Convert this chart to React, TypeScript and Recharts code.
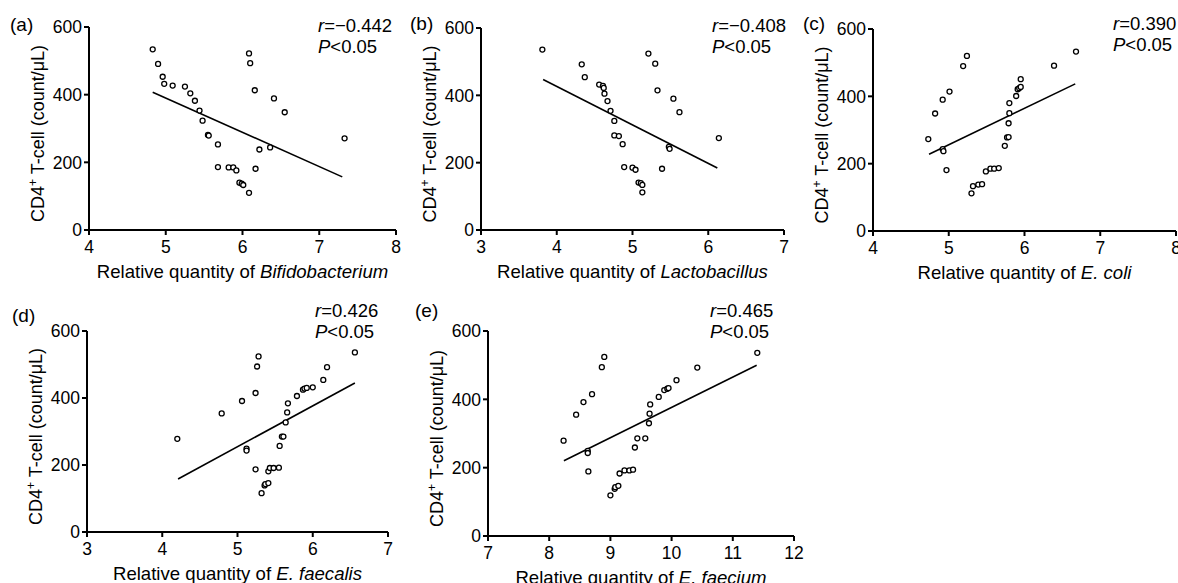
import { ScatterChart, Scatter, XAxis, YAxis, ReferenceLine } from "recharts";

const FONT = '"Liberation Sans", Arial, sans-serif';

// CD4+ T-cell counts vs relative bacterial quantity
const bifidoX = [4.83, 4.9, 4.96, 4.98, 5.09, 5.25, 5.32, 5.38, 5.44, 5.48, 5.55, 5.56, 5.68, 5.68, 5.82, 5.88, 5.92, 5.96, 5.99, 6.01, 6.085, 6.085, 6.1, 6.16, 6.17, 6.22, 6.36, 6.41, 6.55, 7.33];
const bifidoY = [534, 491, 453, 432, 427, 424, 404, 382, 353, 323, 281, 279, 253, 186, 185, 185, 176, 140, 137, 133, 110, 522, 493, 413, 181, 238, 244, 389, 348, 271];
const bifidoFit = [[4.83, 407], [7.3, 157]];

const lactoX = [3.81, 4.33, 4.37, 4.56, 4.61, 4.62, 4.63, 4.67, 4.71, 4.76, 4.76, 4.82, 4.87, 4.89, 5.0, 5.04, 5.08, 5.11, 5.13, 5.13, 5.21, 5.3, 5.33, 5.39, 5.48, 5.49, 5.54, 5.62, 6.14];
const lactoY = [536, 492, 454, 432, 428, 422, 405, 383, 354, 324, 281, 279, 255, 187, 185, 179, 141, 139, 134, 112, 524, 494, 415, 182, 247, 241, 390, 350, 273];
const lactoFit = [[3.82, 447], [6.12, 184]];

const coliX = [4.73, 4.82, 4.92, 4.92, 4.93, 4.97, 5.01, 5.19, 5.24, 5.3, 5.32, 5.39, 5.44, 5.49, 5.55, 5.6, 5.66, 5.74, 5.77, 5.79, 5.79, 5.8, 5.8, 5.89, 5.91, 5.93, 5.95, 5.95, 6.39, 6.68];
const coliY = [273, 349, 390, 243, 237, 181, 414, 490, 520, 112, 133, 138, 139, 177, 185, 185, 187, 253, 278, 279, 320, 350, 380, 401, 421, 424, 428, 451, 491, 533];
const coliFit = [[4.74, 228], [6.67, 437]];

const faecalisX = [4.2, 4.79, 5.06, 5.12, 5.12, 5.24, 5.24, 5.26, 5.28, 5.32, 5.36, 5.37, 5.41, 5.41, 5.43, 5.48, 5.55, 5.56, 5.59, 5.61, 5.64, 5.66, 5.67, 5.79, 5.87, 5.89, 5.92, 6.0, 6.14, 6.19, 6.56];
const faecalisY = [278, 354, 391, 249, 243, 415, 187, 494, 524, 116, 139, 143, 146, 181, 191, 191, 192, 257, 285, 285, 327, 357, 384, 406, 425, 428, 430, 432, 454, 492, 536];
const faecalisFit = [[4.21, 158], [6.56, 445]];

const faeciumX = [8.235, 8.44, 8.56, 8.63, 8.63, 8.64, 8.7, 8.86, 8.9, 9.0, 9.07, 9.08, 9.13, 9.15, 9.23, 9.31, 9.37, 9.4, 9.44, 9.57, 9.63, 9.64, 9.65, 9.79, 9.88, 9.93, 9.95, 10.08, 10.42, 11.4];
const faeciumY = [279, 355, 392, 249, 243, 189, 415, 494, 524, 119, 138, 143, 147, 183, 192, 192, 194, 259, 286, 286, 330, 358, 385, 407, 427, 431, 433, 456, 493, 536];
const faeciumFit = [[8.24, 220], [11.39, 500]];

const yTicks = [0, 200, 400, 600];
const xTicks48 = [4, 5, 6, 7, 8];
const xTicks37 = [3, 4, 5, 6, 7];
const xTicks712 = [7, 8, 9, 10, 11, 12];

const toPoints = (xs: number[], ys: number[]) => xs.map((x, i) => ({ x, y: ys[i] }));

const Dot = (props: any) => (
  <circle cx={props.cx} cy={props.cy} r={2.5} fill="#fff" stroke="#000" strokeWidth={1.3} />
);

interface PanelProps {
  xs: number[];
  ys: number[];
  fit: number[][];
  xTicks: number[];
  organism: string;
  L: number;
  R: number;
  T: number;
  B: number;
}

function Panel({ xs, ys, fit, xTicks, organism, L, R, T, B }: PanelProps) {
  const yAxisW = 89;
  const mt = 27;
  const width = R - L + yAxisW + 10;
  const height = mt + (B - T) + 55;
  const data = toPoints(xs, ys);
  const tickStyle = { fill: "#000", fontSize: 17.5, fontFamily: FONT };

  return (
    <div style={{ position: "absolute", left: L - yAxisW, top: T - mt }}>
      <ScatterChart width={width} height={height} margin={{ top: mt, right: 10, left: 0, bottom: 0 }}>
        <XAxis
          type="number"
          dataKey="x"
          domain={[xTicks[0], xTicks[xTicks.length - 1]]}
          ticks={xTicks}
          interval={0}
          height={55}
          axisLine={{ stroke: "#000", strokeWidth: 2 }}
          tickLine={{ stroke: "#000", strokeWidth: 2 }}
          tickSize={5}
          tickMargin={6}
          tick={tickStyle}
          label={{
            content: (p: any) => {
              const vb = p.viewBox;
              return (
                <text x={vb.x + vb.width / 2} y={vb.y + 48} textAnchor="middle" fontSize={18.6} fontFamily={FONT} fill="#000">
                  Relative quantity of <tspan fontStyle="italic">{organism}</tspan>
                </text>
              );
            },
          }}
        />
        <YAxis
          type="number"
          dataKey="y"
          domain={[0, 600]}
          ticks={yTicks}
          interval={0}
          width={yAxisW}
          axisLine={{ stroke: "#000", strokeWidth: 2 }}
          tickLine={{ stroke: "#000", strokeWidth: 2 }}
          tickSize={5}
          tickMargin={2}
          tick={tickStyle}
          label={{
            content: (p: any) => {
              const vb = p.viewBox;
              const cx = vb.x + 44;
              const cy = vb.y + vb.height / 2 + 5;
              return (
                <text
                  x={cx}
                  y={cy}
                  transform={`rotate(-90 ${cx} ${cy})`}
                  textAnchor="middle"
                  fontSize={18}
                  fontFamily={FONT}
                  fill="#000"
                >
                  CD4
                  <tspan dy={-7} fontSize={12}>+</tspan>
                  <tspan dy={7}> T-cell (count/μL)</tspan>
                </text>
              );
            },
          }}
        />
        <ReferenceLine
          segment={[
            { x: fit[0][0], y: fit[0][1] },
            { x: fit[1][0], y: fit[1][1] },
          ]}
          stroke="#000"
          strokeWidth={1.6}
        />
        <Scatter data={data} shape={Dot} isAnimationActive={false} />
      </ScatterChart>
    </div>
  );
}

function Stats({ tag, r, tagPos, statPos }: { tag: string; r: string; tagPos: number[]; statPos: number[] }) {
  return (
    <>
      <div style={{ position: "absolute", left: tagPos[0], top: tagPos[1], fontSize: 19, lineHeight: "22px", fontFamily: FONT }}>
        {tag}
      </div>
      <div style={{ position: "absolute", left: statPos[0], top: statPos[1], fontSize: 18.5, lineHeight: "21px", fontFamily: FONT, whiteSpace: "nowrap" }}>
        <div>
          <i>r</i>={r}
        </div>
        <div>
          <i>P</i>{"<0.05"}
        </div>
      </div>
    </>
  );
}

export default function App() {
  return (
    <div
      style={{
        position: "absolute",
        left: 0,
        top: 0,
        width: 1178,
        height: 583,
        overflow: "hidden",
        background: "#fff",
        color: "#000",
      }}
    >
      <Panel xs={bifidoX} ys={bifidoY} fit={bifidoFit} xTicks={xTicks48} organism="Bifidobacterium" L={89} R={396} T={27} B={230} />
      <Panel xs={lactoX} ys={lactoY} fit={lactoFit} xTicks={xTicks37} organism="Lactobacillus" L={481} R={784} T={28} B={230} />
      <Panel xs={coliX} ys={coliY} fit={coliFit} xTicks={xTicks48} organism="E. coli" L={873} R={1176} T={29} B={231} />
      <Panel xs={faecalisX} ys={faecalisY} fit={faecalisFit} xTicks={xTicks37} organism="E. faecalis" L={87} R={388} T={331} B={532} />
      <Panel xs={faeciumX} ys={faeciumY} fit={faeciumFit} xTicks={xTicks712} organism="E. faecium" L={488} R={794} T={331} B={536} />

      <Stats tag="(a)" r="−0.442" tagPos={[10, 14]} statPos={[318, 15]} />
      <Stats tag="(b)" r="−0.408" tagPos={[410, 13]} statPos={[712, 15]} />
      <Stats tag="(c)" r="0.390" tagPos={[803, 13]} statPos={[1113, 13]} />
      <Stats tag="(d)" r="0.426" tagPos={[12, 305]} statPos={[315, 300]} />
      <Stats tag="(e)" r="0.465" tagPos={[415, 300]} statPos={[710, 300]} />
    </div>
  );
}
